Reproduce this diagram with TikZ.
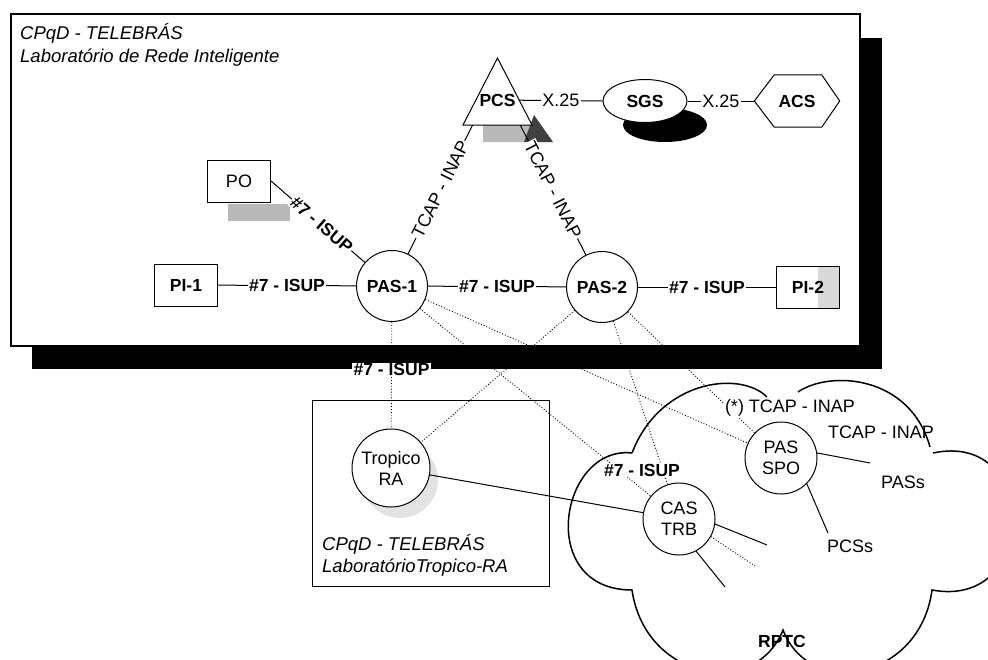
\documentclass[tikz,border=0pt]{standalone}
\usepackage{fontspec}
\setmainfont{Liberation Sans}
\usetikzlibrary{shapes.geometric,calc}
\tikzset{
  rg/.style={font=\fontsize{18}{21}\selectfont},
  bf/.style={font=\bfseries\fontsize{17.5}{21}\selectfont},
  it/.style={font=\itshape\fontsize{18.5}{22}\selectfont},
  boxnode/.style={draw, line width=1pt, fill=white, minimum width=63pt,
    minimum height=42pt, inner sep=0pt, bf},
  circnode/.style={draw, circle, line width=1pt, fill=white,
    minimum size=71pt, inner sep=0pt, align=center, rg},
  link/.style={line width=1pt},
  dots/.style={dotted, line width=0.9pt},
  lbl/.style={fill=white, inner sep=1.2pt},
  cloudline/.style={line width=1.5pt},
}
\begin{document}
\begin{tikzpicture}[x=1pt,y=-1pt]
\useasboundingbox (0,0) rectangle (988,659);

% laboratory frame with its drop shadow
\fill[black] (32,38) rectangle (882,369);
\draw[line width=1.2pt, fill=white] (11,14) rectangle (860,346);
\node[it, anchor=base west, inner sep=0pt] (labA) at (20,39) {CPqD - TELEBRÁS};
\node[it, anchor=base west, inner sep=0pt] (labB) at (20,62) {Laboratório de Rede Inteligente};

% second laboratory frame
\draw[line width=1pt] (312,400) rectangle (549,586);
\node[it, anchor=base west, inner sep=0pt] (labC) at (322,550) {CPqD - TELEBRÁS};
\node[it, anchor=base west, inner sep=0pt] (labD) at (322,572) {LaboratórioTropico-RA};

% PCS triangle and its shadow
\coordinate (PCSn) at (497.5,58);
\coordinate (PCSe) at (532,125);
\coordinate (PCSw) at (463,125);
\fill[gray!55] ($(PCSw)+(20,0)$) -- (PCSe) -- ($(PCSe)+(21,17)$) -- ($(PCSw)+(20,17)$) -- cycle;
\fill[black!75] ($(PCSe)+(2,-10)$) -- ($(PCSe)+(21,17)$) -- ($(PCSe)+(-8,17)$) -- cycle;
\draw[line width=1pt, fill=white] (PCSn) -- (PCSe) -- (PCSw) -- cycle;
\node[bf, inner sep=0pt] (PCS) at (497.5,100) {PCS};

% SGS ellipse with shadow
\node[ellipse, fill=black, minimum width=84pt, minimum height=34pt, inner sep=0pt] (SGSsh) at (665,125) {};
\node[ellipse, draw, line width=1pt, fill=white, minimum width=84pt, minimum height=43pt, inner sep=0pt, bf] (SGS) at (645,101) {SGS};

% ACS hexagon
\node[minimum width=85pt, minimum height=52pt, inner sep=0pt, bf] (ACS) at (797,101) {ACS};
\draw[line width=1pt] ([xshift=20pt]ACS.north west) -- ([xshift=-18pt]ACS.north east) -- (ACS.east)
  -- ([xshift=-18pt]ACS.south east) -- ([xshift=20pt]ACS.south west) -- (ACS.west) -- cycle;

% boxes
\fill[gray!55] (228,204) rectangle (290,221);
\node[boxnode, rg] (PO) at (239,181) {PO};
\node[boxnode] (PI1) at (186,285) {PI-1};
\node[boxnode] (PI2) at (808,287) {};
\fill[gray!30] ($(PI2.north east)+(-22,1)$) rectangle ($(PI2.south east)+(-1,-1)$);
\node[bf, inner sep=0pt] (PI2t) at (PI2.center) {PI-2};

% switching points
\node[circnode, bf] (PAS1) at (392,286) {PAS-1};
\node[circnode, bf] (PAS2) at (602,287) {PAS-2};
\node[circle, fill=gray!22, minimum size=76pt] (TRAsh) at (400,480) {};
\node[circnode, minimum size=78pt] (TRA) at (391,468) {Tropico\\RA};
\node[circnode, minimum size=72pt] (CAS) at (679,519) {CAS\\TRB};
\node[circnode, minimum size=72pt] (SPO) at (781,458) {PAS\\SPO};

% X.25 links
\draw[link] ($(PCSn)!0.63!(PCSe)$) -- node[lbl, rg]{X.25} (SGS.west);
\draw[link] (SGS.east) -- node[lbl, rg]{X.25} (ACS.west);

% signalling links inside the laboratory
\draw[link] (PI1) -- node[lbl, bf]{\#7 - ISUP} (PAS1);
\draw[link] (PAS1) -- node[lbl, bf]{\#7 - ISUP} (PAS2);
\draw[link] (PAS2) -- node[lbl, bf]{\#7 - ISUP} (PI2);
\draw[link] (PO.east) -- node[lbl, bf, sloped, pos=0.54]{\#7 - ISUP} (PAS1);
\draw[link] (PAS1) -- node[lbl, rg, sloped]{TCAP - INAP} ($(PCSw)!0.14!(PCSe)$);
\draw[link] ($(PCSw)!0.83!(PCSe)$) -- node[lbl, rg, sloped]{TCAP - INAP} (PAS2);

% links leaving the laboratory
\draw[dots] (PAS1) -- (CAS);
\draw[dots] (PAS1.-22) -- (SPO);
\draw[dots] (PAS2) -- (TRA);
\draw[dots] (PAS2) -- (CAS);
\draw[dots] (PAS2) -- (SPO);
\draw[dots] (PAS1) -- node[lbl, bf, pos=0.45]{\#7 - ISUP} (TRA);
\draw[link] (TRA) -- (CAS);

% public network cloud
\begin{scope}
\clip (0,0) rectangle (988,659);
\draw[cloudline] (632,453) .. controls (560,445) and (535,590) .. (632,590)
  .. controls (645,680) and (755,700) .. (783,630)
  .. controls (810,700) and (920,680) .. (932,590)
  .. controls (1040,610) and (1040,430) .. (933,453);
\draw[cloudline] (930,447) .. controls (910,375) and (830,370) .. (798,392);
\draw[cloudline] (767,397) .. controls (740,370) and (660,380) .. (632,453);
\end{scope}

% lines towards the rest of the network
\coordinate (c1) at (767,545);
\coordinate (c2) at (755,566);
\coordinate (c3) at (725,587);
\coordinate (pasE) at (870,463);
\coordinate (pcsE) at (828,533);
\draw[link] (CAS.-8) -- (c1);
\draw[dots] (CAS.-29) -- (c2);
\draw[link] (CAS.-62) -- (c3);
\draw[link] (SPO.8) -- (pasE);
\draw[link] (SPO.-45) -- (pcsE);

% labels in the cloud
\node[lbl, rg] (tcapA) at (790,408) {(*) TCAP - INAP};
\node[rg] (tcapB) at (881,432) {TCAP - INAP};
\node[lbl, bf] (isupB) at (642,470) {\#7 - ISUP};
\node[rg] (pass) at (903,482) {PASs};
\node[rg] (pcss) at (850,546) {PCSs};
\node[bf] (rptc) at (782,641) {RPTC};
\end{tikzpicture}
\end{document}
